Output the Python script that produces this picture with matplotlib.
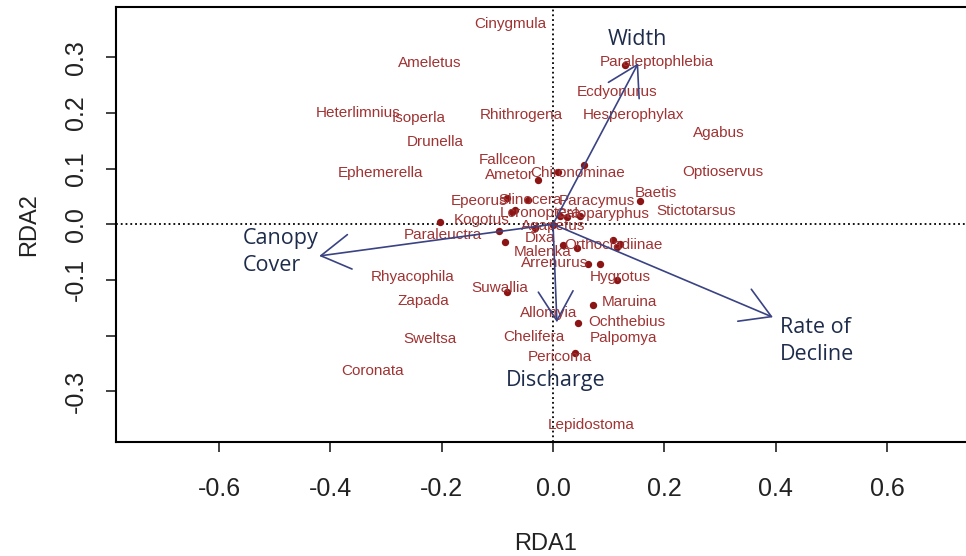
import matplotlib
matplotlib.use('Agg')
import matplotlib.pyplot as plt

# species scores (RDA1, RDA2), labels shown
species = ['Cinygmula', 'Ameletus', 'Heterlimnius', 'Isoperla', 'Rhithrogena',
           'Drunella', 'Paraleptophlebia', 'Ecdyonurus', 'Hesperophylax', 'Agabus',
           'Fallceon', 'Ametor', 'Chironominae', 'Optioservus', 'Ephemerella',
           'Epeorus', 'Slinocera', 'Paracymus', 'Baetis', 'Stictotarsus',
           'Lcronoptera', 'Caloparyphus', 'Kogotus', 'Paraleuctra', 'Agapetus',
           'Dixa', 'Malenka', 'Orthocladiinae', 'Arrenurus', 'Hygrotus',
           'Rhyacophila', 'Suwallia', 'Zapada', 'Maruina', 'Allomyia',
           'Ochthebius', 'Chelifera', 'Palpomya', 'Pericoma', 'Sweltsa',
           'Coronata', 'Lepidostoma']
sp_x = [-0.077, -0.221, -0.350, -0.241, -0.057,
        -0.212, 0.187, 0.115, 0.144, 0.298,
        -0.081, -0.079, 0.045, 0.305, -0.309,
        -0.133, -0.041, 0.079, 0.185, 0.257,
        -0.023, 0.088, -0.129, -0.197, 0.000,
        -0.023, -0.018, 0.108, 0.002, 0.120,
        -0.253, -0.095, -0.233, 0.138, -0.007,
        0.133, -0.034, 0.126, 0.013, -0.221,
        -0.325, 0.068]
sp_y = [0.359, 0.289, 0.199, 0.190, 0.196,
        0.147, 0.291, 0.237, 0.196, 0.163,
        0.115, 0.088, 0.092, 0.093, 0.092,
        0.041, 0.043, 0.041, 0.056, 0.023,
        0.020, 0.018, 0.007, -0.020, -0.004,
        -0.025, -0.050, -0.038, -0.070, -0.095,
        -0.095, -0.115, -0.138, -0.140, -0.160,
        -0.176, -0.203, -0.205, -0.239, -0.206,
        -0.264, -0.361]

# species drawn as points (crowded ones)
pt_x = [0.129, -0.027, 0.056, 0.009, -0.083, -0.045, 0.156, 0.013, 0.025,
        0.048, -0.074, -0.068, -0.203, -0.097, -0.086, -0.032, 0.000, 0.018,
        0.043, 0.108, 0.115, 0.120, 0.063, 0.084, 0.115, -0.083, 0.072,
        0.045, 0.039]
pt_y = [0.285, 0.079, 0.106, 0.093, 0.047, 0.043, 0.041, 0.014, 0.013,
        0.014, 0.022, 0.025, 0.004, -0.013, -0.032, -0.007, -0.002, -0.038,
        -0.043, -0.029, -0.041, -0.036, -0.072, -0.072, -0.101, -0.122, -0.145,
        -0.178, -0.232]

# environmental biplot arrows
env = ['Width', 'Canopy\nCover', 'Rate of\nDecline', 'Discharge']
env_x = [0.153, -0.420, 0.395, 0.007]
env_y = [0.289, -0.057, -0.167, -0.176]
env_lab_x = [0.151, -0.557, 0.408, 0.004]
env_lab_y = [0.332, -0.050, -0.210, -0.280]
env_ha = ['center', 'left', 'left', 'center']

xticks = [-0.6, -0.4, -0.2, 0.0, 0.2, 0.4, 0.6]
yticks = [-0.3, -0.2, -0.1, 0.0, 0.1, 0.2, 0.3]
ytick_labels = ['-0.3', '', '-0.1', '0.0', '0.1', '0.2', '0.3']

rfont = 'Liberation Sans'
sp_col = '#a03333'
pt_col = '#8b1414'
arr_col = '#3a4383'
lab_col = '#1e2c4c'

fig = plt.figure(figsize=(9.66, 5.56), dpi=100)
ax = fig.add_axes([116 / 966, 114 / 556, 859 / 966, 435 / 556])
ax.set_xlim(-0.785, 0.758)
ax.set_ylim(-0.391, 0.390)

ax.axhline(0, color='black', ls=':', lw=1.3, zorder=1)
ax.axvline(0, color='black', ls=':', lw=1.3, zorder=1)

ax.scatter(pt_x, pt_y, s=28, color=pt_col, zorder=3, linewidths=0)
for name, x, y in zip(species, sp_x, sp_y):
    ax.text(x, y, name, ha='center', va='center', fontsize=11,
            family=rfont, color=sp_col, zorder=4)

for x, y in zip(env_x, env_y):
    ax.annotate('', xy=(x, y), xytext=(0, 0),
                arrowprops=dict(arrowstyle='->,head_length=2.1,head_width=1.25',
                                color=arr_col, lw=1.2, shrinkA=0, shrinkB=0),
                zorder=5)
for name, x, y, ha in zip(env, env_lab_x, env_lab_y, env_ha):
    ax.text(x, y, name, ha=ha, va='center', fontsize=15.5, family='Open Sans',
            color=lab_col, linespacing=1.4, zorder=6)

ax.set_xticks(xticks)
ax.set_xticklabels(['%.1f' % v for v in xticks])
ax.set_yticks(yticks)
ax.set_yticklabels(ytick_labels, rotation=90, va='center')
ax.tick_params(axis='x', length=7, width=1.2, direction='out',
               labelsize=18, pad=18, colors='#222222')
ax.tick_params(axis='y', length=7, width=1.2, direction='out',
               labelsize=18, pad=13, colors='#222222')
for lab in ax.get_xticklabels() + ax.get_yticklabels():
    lab.set_family(rfont)

ax.set_xlabel('RDA1', fontsize=17, family=rfont, labelpad=23, color='#222222')
ax.set_ylabel('RDA2', fontsize=17, family=rfont, labelpad=17, color='#222222')

for sp in ax.spines.values():
    sp.set_linewidth(1.5)

fig.savefig('out.png', dpi=100)
